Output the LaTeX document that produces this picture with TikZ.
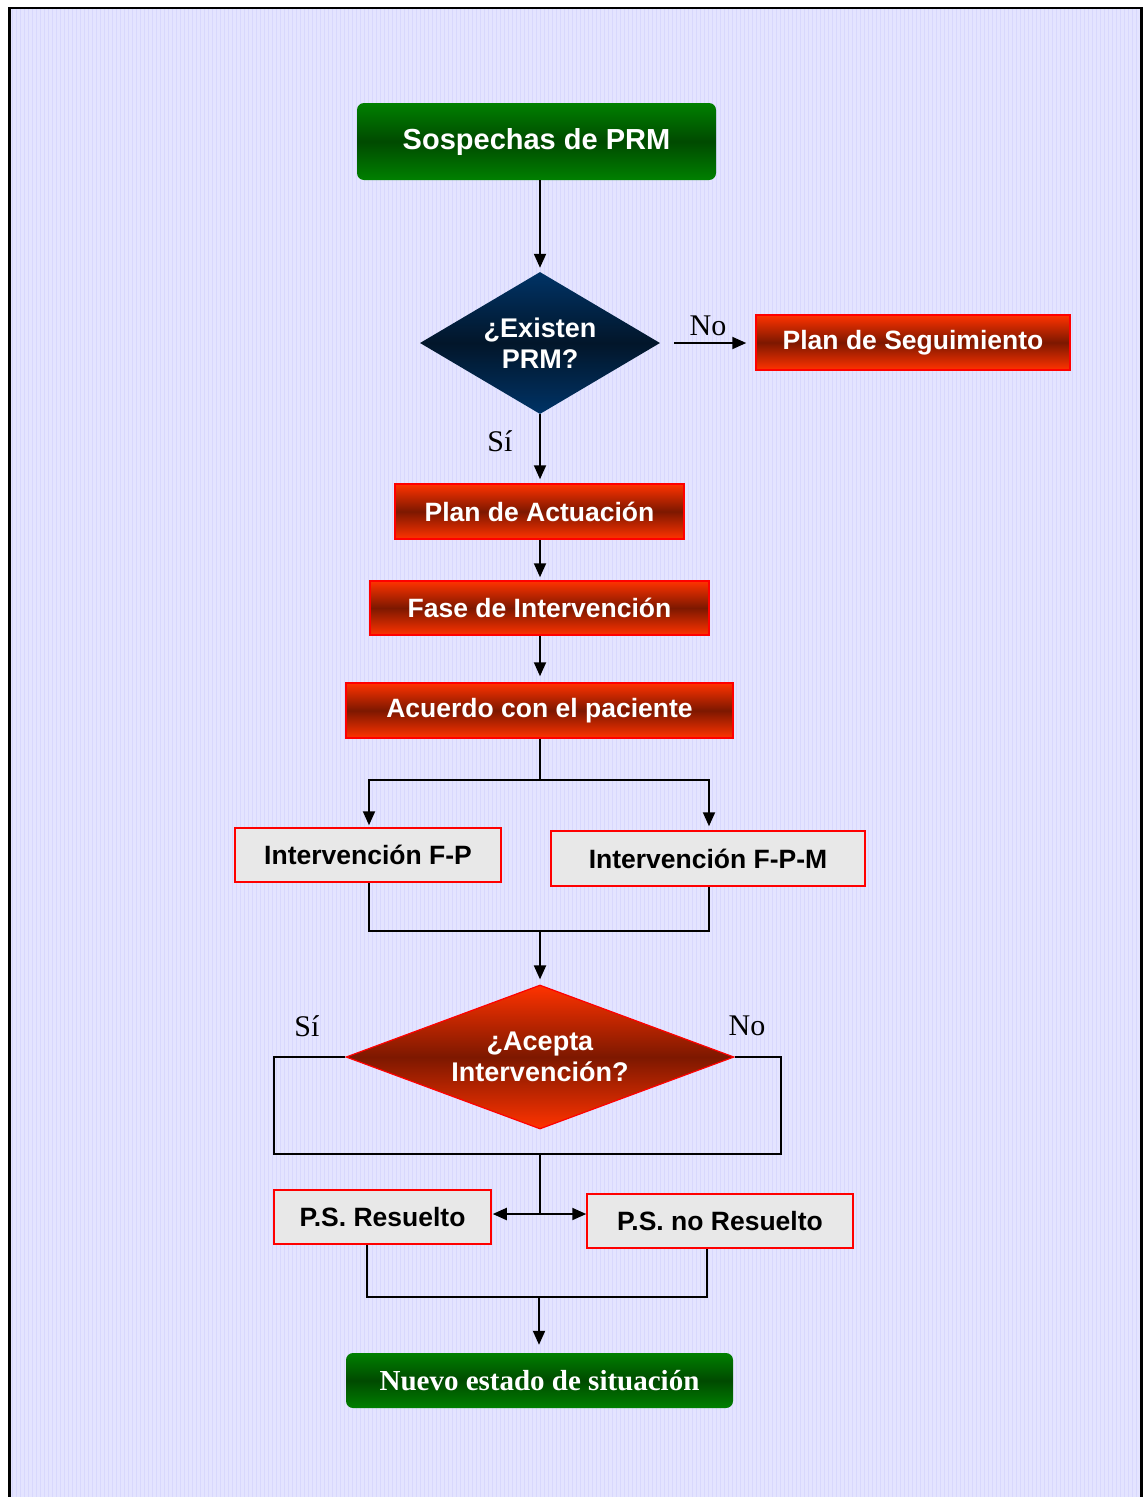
\documentclass[tikz,border=0pt]{standalone}
\usepackage{fontspec}
\setmainfont{Liberation Serif}
\setsansfont{Liberation Sans}
\usetikzlibrary{shapes.geometric,arrows.meta}

\definecolor{bgfill}{RGB}{228,228,255}
\definecolor{bggrid}{RGB}{216,216,253}
\definecolor{gtop}{RGB}{0,128,0}
\definecolor{gmid}{RGB}{0,74,0}
\definecolor{rtop}{RGB}{255,51,0}
\definecolor{rmid}{RGB}{125,24,0}
\definecolor{ntop}{RGB}{0,51,102}
\definecolor{nmid}{RGB}{2,22,42}
\definecolor{marble}{RGB}{232,232,232}
\definecolor{redline}{RGB}{255,0,0}

\begin{document}
\begin{tikzpicture}[x=1pt,y=-1pt,
  sanslabel/.style={font=\sffamily\bfseries\fontsize{26.5}{31}\selectfont},
  greenbox/.style={rounded corners=7pt, top color=gtop, bottom color=gtop,
    middle color=gmid, text=white, inner sep=0pt},
  redbox/.style={rectangle, top color=rtop, bottom color=rtop, middle color=rmid,
    draw=redline, line width=1.5pt, text=white, inner sep=0pt, sanslabel},
  marblebox/.style={rectangle, fill=marble, draw=redline, line width=1.5pt,
    text=black, inner sep=0pt, sanslabel},
  decision/.style={diamond, inner sep=0pt, text=white, align=center,
    font=\sffamily\bfseries\fontsize{27}{31}\selectfont},
  answer/.style={font=\fontsize{30}{32}\selectfont, inner sep=0pt},
  conn/.style={line width=2pt, black},
  arr/.style={conn, -{Triangle[length=14pt,width=12pt]}},
]
% page and framed background
\useasboundingbox (0,0) rectangle (1144,1497);
\fill[white] (0,0) rectangle (1144,1497);
\begin{scope}
  \clip (0,0) rectangle (1144,1497);
  \fill[bgfill] (9.5,8) rectangle (1141.5,1520);
  \draw[bggrid, line width=1pt, step=4] (10,9) grid (1141,1497);
  \draw[line width=2.2pt, black] (9.5,1520) -- (9.5,8) -- (1141.5,8) -- (1141.5,1520);
\end{scope}

% nodes
\node[greenbox, minimum width=359pt, minimum height=77pt,
  font=\sffamily\bfseries\fontsize{29}{32}\selectfont] (s1) at (536.5,141.5) {Sospechas de PRM};
\node[decision, aspect=1.69, minimum width=240pt, minimum height=142pt,
  top color=ntop, bottom color=ntop, middle color=nmid] (d1) at (540,343) {¿Existen\\PRM?};
\node[redbox, minimum width=314pt, minimum height=55pt] (ps) at (913,342.5) {Plan de Seguimiento};
\node[redbox, minimum width=289pt, minimum height=55pt] (pa) at (539.5,511.5) {Plan de Actuación};
\node[redbox, minimum width=339pt, minimum height=54pt] (fi) at (539.5,608) {Fase de Intervención};
\node[redbox, minimum width=387pt, minimum height=55pt] (ac) at (539.5,710.5) {Acuerdo con el paciente};
\node[marblebox, minimum width=266pt, minimum height=54pt] (fp) at (368,855) {Intervención F-P};
\node[marblebox, minimum width=314pt, minimum height=55pt] (fpm) at (708,858.5) {Intervención F-P-M};
\node[decision, aspect=2.69, minimum width=388pt, minimum height=144pt,
  top color=rtop, bottom color=rtop, middle color=rmid, draw=redline, line width=1.2pt] (d2) at (540,1057) {¿Acepta\\Intervención?};
\node[marblebox, minimum width=217pt, minimum height=54pt] (psr) at (382.5,1217) {P.S. Resuelto};
\node[marblebox, minimum width=266pt, minimum height=54pt] (psn) at (720,1221) {P.S. no Resuelto};
\node[greenbox, minimum width=387pt, minimum height=55pt,
  font=\rmfamily\bfseries\fontsize{29}{31}\selectfont] (ne) at (539.5,1380.5) {Nuevo estado de situación};

% answer labels
\node[answer] (no1) at (708,326) {No};
\node[answer] (si1) at (500,441) {Sí};
\node[answer] (si2) at (307,1026) {Sí};
\node[answer] (no2) at (747,1026) {No};

% junction points
\coordinate (j1) at (540,780);
\coordinate (j2) at (540,931);
\coordinate (fpl) at (369,931);
\coordinate (fpr) at (709,931);
\coordinate (lb) at (274,1154);
\coordinate (rb) at (781,1154);
\coordinate (j3) at (540,1154);
\coordinate (j4) at (540,1214);
\coordinate (pl) at (367,1297);
\coordinate (pr) at (707,1297);
\coordinate (j5) at (539,1297);

% connectors
\draw[arr, shorten >=4pt] (s1.south -| d1.north) -- (d1.north);
\draw[arr, shorten <=14pt, shorten >=9pt] (d1.east) -- (ps.west |- d1.east);
\draw[arr, shorten >=4pt] (d1.south) -- (pa.north -| d1.south);
\draw[arr, shorten >=3pt] (pa.south -| j1) -- (fi.north -| j1);
\draw[arr, shorten >=6pt] (fi.south -| j1) -- (ac.north -| j1);
\draw[conn] (ac.south -| j1) -- (j1);
\draw[arr, shorten >=2pt] (j1) -| (fp.north -| fpl);
\draw[arr, shorten >=4pt] (j1) -| (fpm.north -| fpr);
\draw[conn] (fp.south -| fpl) -- (fpl) -- (fpr) -- (fpm.south -| fpr);
\draw[arr, shorten >=5pt] (j2) -- (d2.north);
\draw[conn] (d2.west) -| (lb) -- (rb) |- (d2.east);
\draw[conn] (j3) -- (j4);
\draw[arr, shorten >=1pt] (j4) -- (psr.east |- j4);
\draw[arr] (j4) -- (psn.west |- j4);
\draw[conn] (psr.south -| pl) -- (pl) -- (pr) -- (psn.south -| pr);
\draw[arr, shorten >=8pt] (j5) -- (ne.north -| j5);
\end{tikzpicture}
\end{document}
